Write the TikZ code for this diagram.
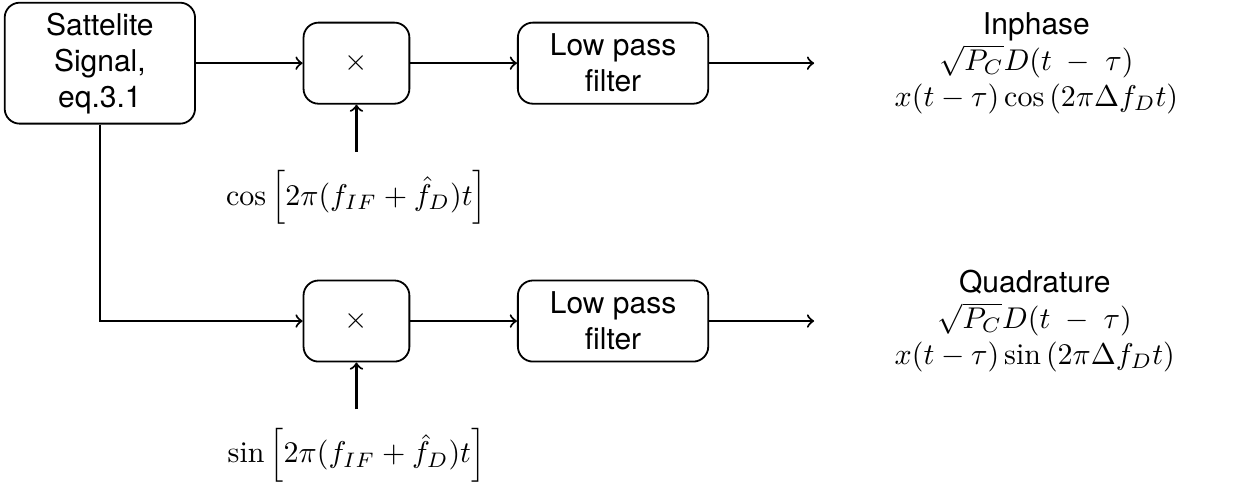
\documentclass[tikz,border=0pt]{standalone}
\usepackage{amsmath}
\usepackage{fontspec}
\setsansfont{TeX Gyre Heros}
\usetikzlibrary{positioning}

\begin{document}
\begin{tikzpicture}[blocknode/.style={rectangle, draw, rounded corners=5pt, semithick, align=center, font=\sffamily, minimum width=2.23cm, minimum height=0.95cm},
    mixnode/.style={rectangle, draw, rounded corners=5pt, semithick, minimum width=1.24cm, minimum height=0.95cm},
    outnode/.style={align=center, font=\sffamily, anchor=west},
    line/.style={->, line width=0.7pt}]

        \node[blocknode, minimum height=1.41cm] (sat) {Sattelite\\Signal,\\eq.3.1};

        % inphase branch
        \node[mixnode] (mix1) [right=1.25cm of sat] {$\times$};
        \node[blocknode] (lpf1) [right=1.25cm of mix1] {Low pass\\filter};
        \coordinate[right=1.23cm of lpf1] (out1);
        \node[outnode] (res1) [right=0.82cm of out1] {Inphase\\$\sqrt{P_C}D(t\;-\;\tau)$\\$x(t-\tau)\cos\left(2\pi\Delta f_D t\right)$};
        \node (cos1) [below=0.55cm of mix1, outer sep=3pt] {$\cos\left[2\pi(f_{IF}+\hat{f}_D)t\right]$};

        % quadrature branch
        \node[mixnode] (mix2) [below=2.05cm of mix1] {$\times$};
        \node[blocknode] (lpf2) [right=1.25cm of mix2] {Low pass\\filter};
        \coordinate[right=1.23cm of lpf2] (out2);
        \node[outnode] (res2) [right=0.82cm of out2] {Quadrature\\$\sqrt{P_C}D(t\;-\;\tau)$\\$x(t-\tau)\sin\left(2\pi\Delta f_D t\right)$};
        \node (sin1) [below=0.55cm of mix2, outer sep=3pt] {$\sin\left[2\pi(f_{IF}+\hat{f}_D)t\right]$};

        \draw[line] (sat) -- (mix1);
        \draw[line] (mix1) -- (lpf1);
        \draw[line] (lpf1) -- (out1);
        \draw[line] (cos1) -- (mix1);
        \draw[line] (sat.south) |- (mix2.west);
        \draw[line] (mix2) -- (lpf2);
        \draw[line] (lpf2) -- (out2);
        \draw[line] (sin1) -- (mix2);

        \useasboundingbox (-1.17,0.74) rectangle (13.31,-4.97);

        \end{tikzpicture}
\end{document}
